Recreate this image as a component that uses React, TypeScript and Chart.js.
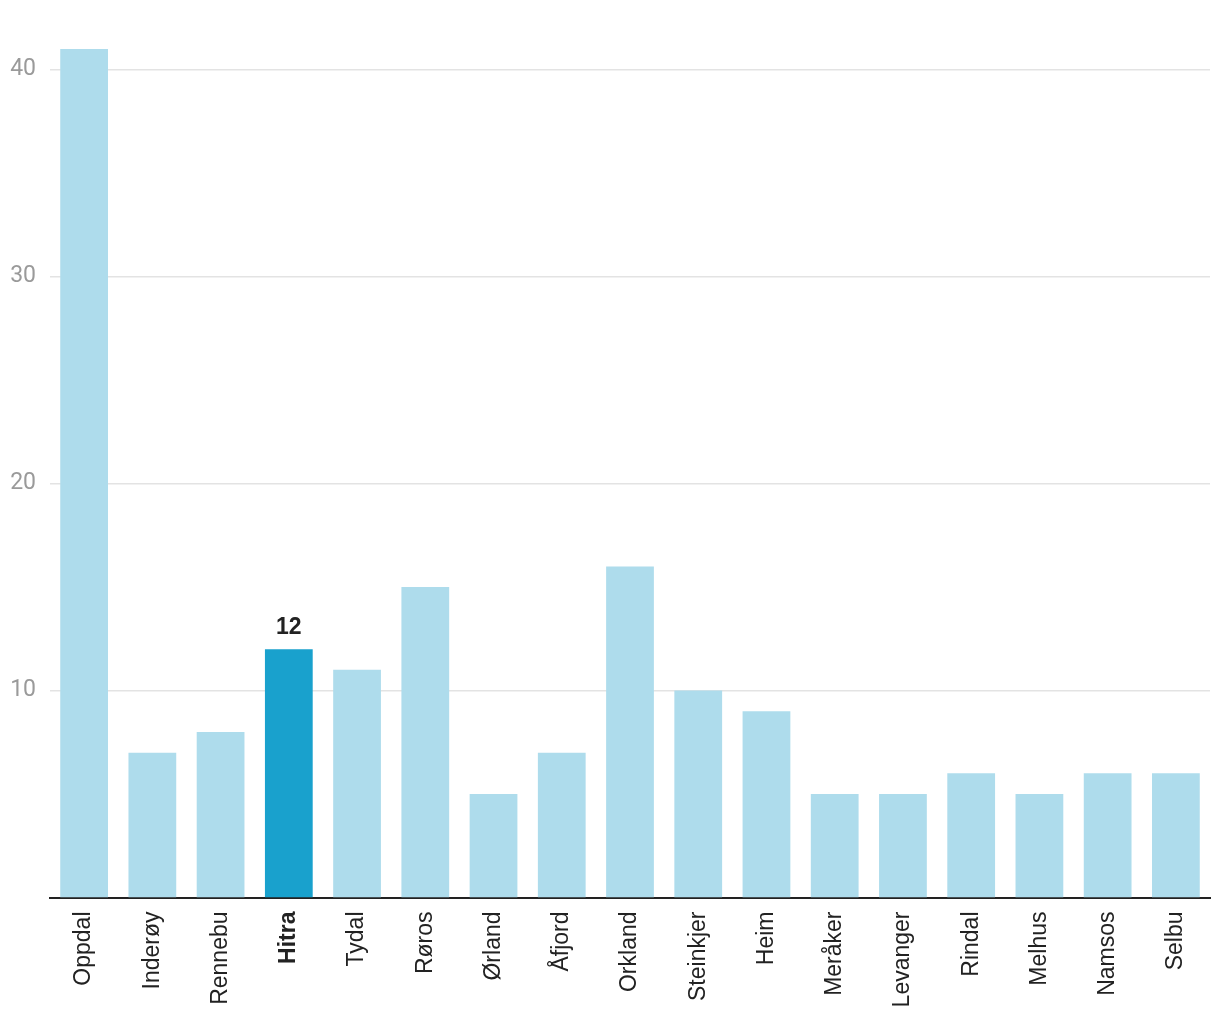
import React, { useEffect, useRef } from "react";
import { Chart, registerables } from "chart.js";

Chart.register(...registerables);

const categories = [
  "Oppdal", "Inderøy", "Rennebu", "Hitra", "Tydal", "Røros", "Ørland", "Åfjord",
  "Orkland", "Steinkjer", "Heim", "Meråker", "Levanger", "Rindal", "Melhus", "Namsos", "Selbu",
];
const values = [41, 7, 8, 12, 11, 15, 5, 7, 16, 10, 9, 5, 5, 6, 5, 6, 6];
const highlightIndex = 3;
const yTickValues = [10, 20, 30, 40];

const LIGHT = "#aedcec";
const DARK = "#19a1cd";

export default function App() {
  const ref = useRef<HTMLCanvasElement | null>(null);

  useEffect(() => {
    document.body.style.margin = "0";
    const canvas = ref.current;
    if (!canvas) return;

    const labelPlugin = {
      id: "hiLabel",
      afterDatasetsDraw(chart: any) {
        const meta = chart.getDatasetMeta(0);
        const bar = meta.data[highlightIndex];
        if (!bar) return;
        const ctx = chart.ctx;
        ctx.save();
        ctx.font = "bold 23px 'Liberation Sans', Arial, sans-serif";
        ctx.fillStyle = "#222222";
        ctx.textAlign = "center";
        ctx.textBaseline = "alphabetic";
        ctx.fillText(String(values[highlightIndex]), bar.x, bar.y - 15);
        ctx.restore();
      },
    };

    const chart = new Chart(canvas, {
      type: "bar",
      data: {
        labels: categories,
        datasets: [
          {
            data: values,
            backgroundColor: values.map((_, i) => (i === highlightIndex ? DARK : LIGHT)),
            barPercentage: 0.7,
            categoryPercentage: 1,
            borderWidth: 0,
          },
        ],
      },
      options: {
        animation: false,
        responsive: false,
        devicePixelRatio: 1,
        layout: { padding: { top: 49, right: 10, left: 0, bottom: 0 } },
        plugins: { legend: { display: false }, tooltip: { enabled: false } },
        scales: {
          x: {
            grid: { display: false, drawTicks: false },
            border: { display: true, color: "#222222", width: 2 },
            ticks: {
              autoSkip: false,
              minRotation: 90,
              maxRotation: 90,
              padding: 14,
              color: "#222222",
              font: (ctx: any) => ({
                family: "'Liberation Sans', Arial, sans-serif",
                size: 23,
                weight: ctx.index === highlightIndex ? "bold" : "normal",
              }),
            },
            afterFit: (scale: any) => {
              scale.height = 122.5;
            },
          },
          y: {
            min: 0,
            max: 41,
            grid: { color: "#e3e3e3", lineWidth: 1.5, drawTicks: false },
            border: { display: false },
            ticks: {
              padding: 14,
              color: "#9a9a9a",
              font: { family: "Roboto, sans-serif", size: 23 },
            },
            afterBuildTicks: (scale: any) => {
              scale.ticks = yTickValues.map((v) => ({ value: v }));
            },
            afterFit: (scale: any) => {
              scale.width = 50;
            },
          },
        },
      },
      plugins: [labelPlugin],
    });

    return () => chart.destroy();
  }, []);

  return (
    <div style={{ position: "absolute", left: 0, top: 0, width: 1220, height: 1020 }}>
      <canvas ref={ref} width={1220} height={1020} style={{ width: 1220, height: 1020 }} />
    </div>
  );
}
